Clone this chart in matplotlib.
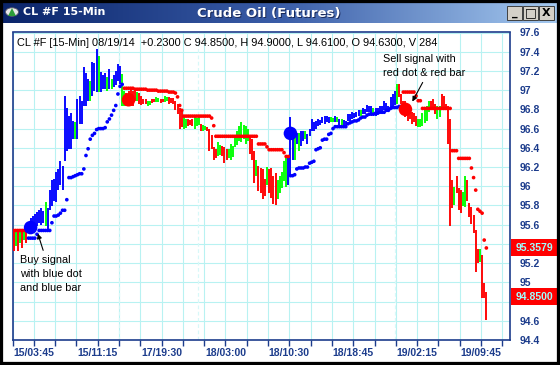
import numpy as np
import matplotlib
matplotlib.use("Agg")
import matplotlib.pyplot as plt
from matplotlib.patches import Rectangle, Circle, Polygon
from matplotlib.colors import LinearSegmentedColormap

# ---------------- data ----------------
bar_high = [95.54, 95.53, 95.55, 95.52, 95.55, 95.54, 95.53, 95.63, 95.67, 95.69,
            95.71, 95.73, 95.75, 95.77, 95.74, 95.84, 95.77, 95.96, 96.06, 96.08,
            96.15, 96.18, 96.26, 96.21, 96.94, 96.81, 96.73, 96.76, 96.68, 96.67,
            96.91, 96.94, 96.89, 97.24, 97.18, 97.12, 97.10, 97.29, 97.28, 97.43,
            97.36, 97.19, 97.16, 97.18, 97.14, 97.22, 97.12, 97.16, 97.20, 97.27,
            97.25, 97.17, 96.99, 96.97, 96.99, 97.01, 96.99, 97.01, 96.98, 96.97,
            96.94, 96.91, 96.91, 96.89, 96.89, 96.91, 96.91, 96.93, 96.92, 96.91,
            96.91, 96.94, 96.93, 96.93, 96.92, 96.92, 96.89, 96.86, 96.81, 96.79,
            96.72, 96.70, 96.70, 96.69, 96.70, 96.72, 96.71, 96.72, 96.65, 96.64,
            96.63, 96.62, 96.60, 96.53, 96.41, 96.39, 96.46, 96.43, 96.42, 96.41,
            96.39, 96.39, 96.44, 96.42, 96.53, 96.58, 96.63, 96.67, 96.64, 96.63,
            96.60, 96.53, 96.49, 96.37, 96.27, 96.21, 96.19, 96.18, 96.08, 96.20,
            96.18, 96.19, 96.11, 96.14, 96.06, 96.11, 96.15, 96.26, 96.30, 96.29,
            96.72, 96.57, 96.57, 96.55, 96.55, 96.57, 96.58, 96.58, 96.54, 96.60,
            96.70, 96.67, 96.68, 96.70, 96.69, 96.72, 96.73, 96.73, 96.72, 96.72,
            96.71, 96.73, 96.72, 96.70, 96.70, 96.69, 96.68, 96.75, 96.75, 96.77,
            96.76, 96.77, 96.79, 96.79, 96.81, 96.80, 96.85, 96.84, 96.84, 96.81,
            96.81, 96.81, 96.83, 96.83, 96.89, 96.87, 96.83, 96.93, 96.96, 96.99,
            97.06, 97.06, 96.96, 96.89, 96.89, 96.86, 96.84, 96.77, 96.76, 96.73,
            96.70, 96.70, 96.76, 96.81, 96.83, 96.89, 96.89, 96.91, 96.86, 96.83,
            96.83, 96.96, 96.94, 96.86, 96.83, 96.70, 96.06, 95.99, 96.11, 95.98,
            95.96, 95.94, 96.11, 96.06, 95.83, 95.78, 95.70, 95.54, 95.35, 95.35,
            95.28, 94.99, 94.90]
bar_low = [95.33, 95.38, 95.33, 95.41, 95.36, 95.44, 95.41, 95.52, 95.53, 95.55,
           95.58, 95.59, 95.62, 95.60, 95.62, 95.59, 95.54, 95.75, 95.79, 95.85,
           95.84, 95.96, 96.01, 95.96, 96.26, 96.37, 96.39, 96.39, 96.49, 96.49,
           96.49, 96.65, 96.65, 96.83, 96.84, 96.89, 96.89, 96.94, 96.99, 96.98,
           96.98, 96.98, 97.01, 97.01, 96.99, 97.01, 97.01, 97.03, 97.05, 97.10,
           97.06, 96.83, 96.84, 96.83, 96.84, 96.84, 96.83, 96.89, 96.89, 96.86,
           96.85, 96.86, 96.86, 96.84, 96.85, 96.87, 96.88, 96.88, 96.88, 96.87,
           96.88, 96.88, 96.89, 96.86, 96.87, 96.86, 96.79, 96.75, 96.60, 96.62,
           96.60, 96.61, 96.63, 96.64, 96.63, 96.60, 96.63, 96.64, 96.57, 96.58,
           96.59, 96.57, 96.37, 96.39, 96.27, 96.29, 96.31, 96.33, 96.31, 96.24,
           96.27, 96.29, 96.27, 96.30, 96.41, 96.43, 96.47, 96.46, 96.49, 96.44,
           96.47, 96.34, 96.27, 96.03, 96.11, 95.95, 95.93, 95.87, 95.90, 96.01,
           95.93, 95.88, 95.82, 95.81, 95.87, 95.93, 95.98, 96.05, 95.99, 96.01,
           96.11, 96.27, 96.27, 96.44, 96.37, 96.42, 96.47, 96.49, 96.44, 96.52,
           96.57, 96.57, 96.60, 96.63, 96.64, 96.66, 96.65, 96.67, 96.66, 96.67,
           96.67, 96.67, 96.67, 96.64, 96.64, 96.63, 96.63, 96.68, 96.68, 96.70,
           96.71, 96.72, 96.73, 96.73, 96.75, 96.75, 96.77, 96.77, 96.75, 96.74,
           96.73, 96.75, 96.77, 96.77, 96.79, 96.80, 96.77, 96.81, 96.83, 96.85,
           96.86, 96.93, 96.86, 96.74, 96.72, 96.68, 96.70, 96.65, 96.67, 96.63,
           96.62, 96.62, 96.63, 96.66, 96.68, 96.77, 96.79, 96.81, 96.75, 96.70,
           96.72, 96.79, 96.81, 96.79, 96.44, 95.59, 95.77, 95.80, 95.93, 95.75,
           95.72, 95.79, 95.78, 95.85, 95.68, 95.61, 95.51, 95.11, 95.20, 95.21,
           94.84, 94.84, 94.61]
bar_colors = ("RGRGRGRBBBBBBBBGBBBBBBBBBBBBBGBBBBBBGBBBGBBBGBGBBBBGGRRRRRGRRRRGGRRGGRRGGRRRRRRR"
              "GGRRRGGGRGGRRRRRGGRRRGGGGGGGGGGRRRGRRRRGRRRRGGGGGBBBGBGBBGBBBBBBBBBBBGGBGBGBBBB"
              "BBBBGBBBBBGBBBBBBBBBBGRRRRRRRRRGGGGGGRRRGGRRRRRRGRRRGGRRRRRRGRR")

stop_vals = ([95.54] * 7 +
             [95.46, 95.46, 95.46, 95.46, 95.50, 95.54, 95.54, 95.54, 95.54, 95.54,
              95.54, 95.62, 95.69, 95.69, 95.70, 95.72, 95.75, 95.75, 95.86, 96.09,
              96.09, 96.10, 96.11, 96.12, 96.13, 96.13, 96.18, 96.32, 96.39, 96.49,
              96.53, 96.55, 96.59, 96.60, 96.60, 96.60, 96.61, 96.67, 96.70, 96.74,
              96.79, 96.84, 96.96, 97.04, 97.06] +
             [97.02] * 5 + [97.01] * 6 + [97.00] * 5 + [96.99] * 5 +
             [96.98, 96.98, 96.98, 96.97, 96.93, 96.84, 96.79] + [96.73] * 13 +
             [96.71, 96.63] + [96.52] * 20 + [96.44] * 4 + [96.41] + [96.38] * 7 +
             [96.35, 96.31, 96.31] +
             [96.11, 96.11, 96.12, 96.18, 96.19, 96.19, 96.19, 96.20, 96.20, 96.24,
              96.25, 96.26, 96.38, 96.39, 96.40, 96.48, 96.49, 96.49, 96.54, 96.55,
              96.60, 96.62, 96.62, 96.62, 96.62, 96.62, 96.62, 96.65, 96.66, 96.67,
              96.68, 96.68, 96.69, 96.71, 96.72, 96.72, 96.74, 96.75, 96.75, 96.75,
              96.76, 96.76, 96.77, 96.77, 96.77, 96.79, 96.79, 96.81, 96.82, 96.82,
              96.82, 96.83, 96.83] +
             [96.98] * 6 + [96.94, 96.89, 96.89] + [96.81] * 14 + [96.37] * 3 +
             [96.29] * 6 + [96.19, 96.09, 95.96, 95.76, 95.74, 95.72, 95.44, 95.3579])
stop_colors = "R" * 7 + "B" * 45 + "R" * 78 + "B" * 53 + "R" * 40

signal_idx = [8, 54, 130, 184]
signal_price = [95.57, 96.90, 96.55, 96.80]
signal_colors = ["B", "R", "B", "R"]

yticks = [94.4, 94.6, 94.8, 95.0, 95.2, 95.4, 95.6, 95.8, 96.0, 96.2, 96.4, 96.6,
          96.8, 97.0, 97.2, 97.4, 97.6]
ytick_labels = ["94.4", "94.6", "", "95", "95.2", "", "95.6", "95.8", "96", "96.2",
                "96.4", "96.6", "96.8", "97", "97.2", "97.4", "97.6"]
xtick_pos = [10, 40, 70, 100, 130, 160, 190, 220]
xtick_labels = ["15/03:45", "15/11:15", "17/19:30", "18/03:00", "18/10:30",
                "18/18:45", "19/02:15", "19/09:45"]
day_breaks = [50, 87.1, 179.4]
price_tags = [95.3579, 94.85]
info_text = ("CL #F [15-Min] 08/19/14  +0.2300 C 94.8500, H 94.9000, "
             "L 94.6100, O 94.6300, V 284")

# ---------------- figure ----------------
W, H = 560, 365
fig = plt.figure(figsize=(W / 100, H / 100), dpi=100)
fig.patch.set_facecolor("white")

def fx(x):
    return x / W

def fy(y):
    return 1 - y / H

COL = {"R": "#FF0000", "G": "#00FF00", "B": "#0000FF"}
NAVY = "#1C3C8C"
GRID = "#B8F2F2"

# title bar gradient
tb = fig.add_axes([0, fy(23), 1, 21 / H])
grad = np.linspace(0, 1, 256)[None, :]
cmap = LinearSegmentedColormap.from_list("tb", ["#0A246A", "#3A5DA8", "#A6CAF0"])
tb.imshow(grad, aspect="auto", cmap=cmap, extent=[0, 1, 0, 1])
tb.set_axis_off()

# plot axes
ax = fig.add_axes([fx(12.5), fy(340), 497.5 / W, 307.5 / H])
ax.set_xlim(0, 233.6)
ax.set_ylim(94.40, 97.59)
ax.set_facecolor("white")

xs = np.arange(len(bar_high)) + 0.5
ax.vlines(xs, bar_low, bar_high, colors=[COL[c] for c in bar_colors],
          linewidth=1.35, zorder=3)
ax.scatter(np.arange(len(stop_vals)) + 0.5, stop_vals,
           c=[COL[c] for c in stop_colors], s=7, marker="o", linewidths=0, zorder=4)
ax.scatter(np.array(signal_idx) + 0.5, signal_price,
           c=[COL[c] for c in signal_colors], s=95, marker="o", linewidths=0, zorder=5)

# grid
ax.set_yticks(yticks)
ax.set_yticklabels(ytick_labels)
ax.set_xticks(np.arange(0, 234, 10))
ax.set_xticklabels(["" if t not in xtick_pos else xtick_labels[xtick_pos.index(t)]
                    for t in range(0, 234, 10)])
ax.grid(True, color=GRID, linewidth=0.8, zorder=0)
ax.set_axisbelow(True)
for d in day_breaks:
    ax.axvline(d, color="#D8F8F8", linewidth=0.9, linestyle=(0, (3, 2)), zorder=1)

ax.yaxis.tick_right()
ax.tick_params(axis="y", length=0, pad=7, labelsize=7.5, labelcolor=NAVY)
ax.tick_params(axis="x", length=4, direction="out", color=NAVY, width=1,
               pad=2, labelsize=7.5, labelcolor=NAVY)
for lab in ax.get_xticklabels() + ax.get_yticklabels():
    lab.set_fontweight("bold")
    lab.set_fontfamily("Liberation Sans")
for sp in ax.spines.values():
    sp.set_color(NAVY)
    sp.set_linewidth(1.2)

# info text
fig.text(fx(17), fy(43), info_text, fontsize=7.9, family="Liberation Sans",
         color="black", va="center", ha="left")

# price tags on right axis
for p in price_tags:
    ypix = 31.4 + (97.6 - p) * 96.45
    fig.patches.append(Rectangle((fx(511), fy(ypix + 8.5)), 46 / W, 17 / H,
                                 transform=fig.transFigure, facecolor="#FF0000",
                                 edgecolor="none", zorder=5))
    fig.text(fx(534), fy(ypix), f"{p:.4f}", fontsize=7.5, fontweight="bold",
             family="Liberation Sans", color="#A0FFFF", ha="center", va="center",
             zorder=6)

# annotations
fig.text(fx(383), fy(59), "Sell signal with", fontsize=7.8, family="Liberation Sans",
         ha="left", va="center")
fig.text(fx(383), fy(72.5), "red dot & red bar", fontsize=7.8, family="Liberation Sans",
         ha="left", va="center")
fig.add_artist(matplotlib.patches.FancyArrowPatch(
    (fx(424), fy(80)), (fx(411), fy(104)), transform=fig.transFigure,
    arrowstyle="-|>", mutation_scale=7, color="black", linewidth=0.8, zorder=7))
for k, line in enumerate(["Buy signal", "with blue dot", "and blue bar"]):
    fig.text(fx(20), fy(260 + 14 * k), line, fontsize=7.8, family="Liberation Sans",
             ha="left", va="center")
fig.add_artist(matplotlib.patches.FancyArrowPatch(
    (fx(44), fy(253)), (fx(37), fy(231)), transform=fig.transFigure,
    arrowstyle="-|>", mutation_scale=7, color="black", linewidth=0.8, zorder=7))

# title bar texts
fig.text(fx(269) + 0.0015, fy(13) - 0.003, "Crude Oil (Futures)", fontsize=9.5,
         fontweight="bold", family="DejaVu Sans", color="#1A2A5A", ha="center",
         va="center")
fig.text(fx(269), fy(13), "Crude Oil (Futures)", fontsize=9.5, fontweight="bold",
         family="DejaVu Sans", color="white", ha="center", va="center")
fig.text(fx(23), fy(12), "CL #F 15-Min", fontsize=8, fontweight="bold",
         family="DejaVu Sans", color="white", ha="left", va="center")

# icon
fig.patches.append(Circle((fx(12), fy(12)), 6.5 / W, transform=fig.transFigure,
                          facecolor="#E8E8E8", edgecolor="#556", linewidth=0.6))
fig.patches.append(Polygon([(fx(8), fy(16)), (fx(16), fy(16)), (fx(12), fy(8))],
                           closed=True, transform=fig.transFigure,
                           facecolor="#2E9E3A", edgecolor="none"))

# window buttons
for x0, sym in [(507, "_"), (523, "□"), (539, "X")]:
    fig.patches.append(Rectangle((fx(x0), fy(19.5)), 15 / W, 13.5 / H,
                                 transform=fig.transFigure, facecolor="#D4D0C8",
                                 edgecolor="#404040", linewidth=0.7, zorder=5))
    fig.text(fx(x0 + 7.5), fy(12.5), sym, fontsize=8 if sym != "□" else 9,
             fontweight="bold", family="DejaVu Sans", color="black",
             ha="center", va="center", zorder=6)

# outer black frame
fig.patches.append(Rectangle((0, 0), 1, 1, transform=fig.transFigure,
                             facecolor="none", edgecolor="black", linewidth=4.5,
                             zorder=10))

fig.savefig("out.png", dpi=100)
